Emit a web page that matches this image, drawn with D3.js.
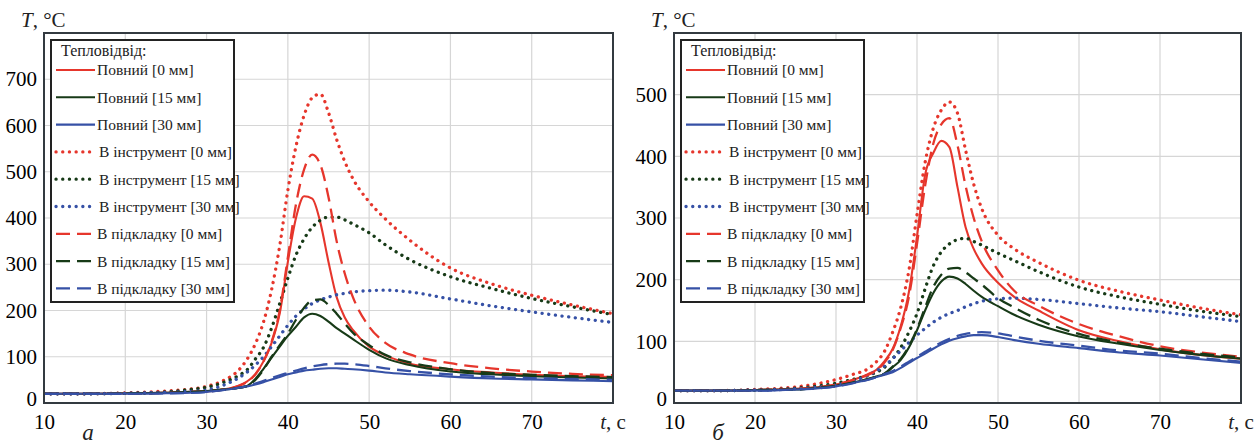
<!DOCTYPE html>
<html><head><meta charset="utf-8">
<script src="https://cdn.jsdelivr.net/npm/d3@7"></script>
<style>body{margin:0;background:#fff}svg{display:block}</style>
</head><body>
<svg id="c" width="1260" height="448"></svg>
<script>
// ---- data ----
const timePoints = [10,15,20,25,28,30,32,34,35,36,37,38,39,40,41,42,43,44,45,46,47,48,50,52,55,60,65,70,75,80];
const xTicks = [10,20,30,40,50,60,70];
const yTicksA = [0,100,200,300,400,500,600,700];
const yTicksB = [0,100,200,300,400,500];
const legendTitle = "Тепловідвід:";
const seriesNames = ["Повний [0 мм]","Повний [15 мм]","Повний [30 мм]",
  "В інструмент [0 мм]","В інструмент [15 мм]","В інструмент [30 мм]",
  "В підкладку [0 мм]","В підкладку [15 мм]","В підкладку [30 мм]"];

// panel а
const a_full0  = [20,20,21,22,24,25,29,38,47,62,90,130,194,305,400,447,442,390,305,229,185,158,122,103,85,73,66,61,58,56];
const a_full15 = [20,20,21,22,24,26,29,33,37,52,74,98,122,145,165,185,193,188,176,162,150,138,115,97,82,68,62,58,55,53];
const a_full30 = [20,20,20,21,22,24,28,33,36,40,45,51,56,62,66,70,72,74,75,75,74,73,70,66,62,57,53,51,49,47];
const a_tool0  = [20,20,22,26,30,36,48,72,95,128,175,245,340,460,555,622,660,668,628,570,522,485,435,398,352,292,258,233,212,193];
const a_tool15 = [20,20,21,24,29,34,44,60,72,95,120,162,215,270,320,355,380,395,402,402,396,387,368,342,310,273,248,226,208,191];
const a_tool30 = [20,20,21,23,25,28,38,55,67,82,100,122,145,168,188,203,215,223,229,234,237,240,243,244,240,225,210,197,185,174];
const a_sub0   = [20,20,21,22,24,25,29,37,46,62,90,132,200,315,430,505,537,515,445,350,280,229,165,130,105,86,75,68,63,60];
const a_sub15  = [20,20,21,22,24,26,29,33,37,50,72,100,125,150,180,206,222,224,212,193,172,152,125,104,88,73,65,61,58,56];
const a_sub30  = [20,20,20,21,22,24,28,33,37,42,48,54,60,65,70,75,79,82,84,85,85,84,80,75,69,62,57,54,52,50];

// panel б
const b_full0  = [20,20,21,23,26,30,37,47,54,68,88,125,180,270,370,405,425,415,350,285,250,226,195,172,150,118,100,87,78,72];
const b_full15 = [20,20,21,22,25,28,33,39,43,47,58,70,90,118,150,178,197,205,202,193,182,172,157,143,127,108,96,86,78,72];
const b_full30 = [20,20,20,22,24,27,32,38,42,46,50,57,65,73,80,88,95,101,105,108,110,110,107,102,96,89,82,77,71,65];
const b_tool0  = [20,20,22,26,32,38,46,56,67,84,115,155,215,305,390,445,475,488,470,410,355,315,272,250,228,199,181,167,154,143];
const b_tool15 = [20,20,21,24,28,32,38,45,50,58,72,90,115,145,185,222,245,258,265,267,262,256,243,231,213,188,172,160,149,140];
const b_tool30 = [20,20,21,23,26,29,35,45,52,60,72,85,98,110,121,131,139,145,150,156,161,165,169,170,168,161,154,148,140,132];
const b_sub0   = [20,20,21,23,26,30,37,46,53,66,86,122,172,258,352,420,452,462,418,352,300,262,215,182,158,128,108,92,82,75];
const b_sub15  = [20,20,21,22,25,28,33,39,43,48,59,72,92,120,155,188,208,218,219,212,202,192,170,155,135,112,98,88,80,74];
const b_sub30  = [20,20,20,22,24,27,32,38,42,47,52,59,67,75,83,91,98,104,109,112,114,115,113,108,101,93,85,80,73,67];

// ---- styles ----
const RED = "#e6362c", GREEN = "#173a17", BLUE = "#3651a6";
const styleList = [
  {c:RED,k:"solid"},{c:GREEN,k:"solid"},{c:BLUE,k:"solid"},
  {c:RED,k:"dot"},{c:GREEN,k:"dot"},{c:BLUE,k:"dot"},
  {c:RED,k:"dash"},{c:GREEN,k:"dash"},{c:BLUE,k:"dash"}];
function applyStyle(sel, s){
  sel.attr("fill","none").attr("stroke",s.c);
  if(s.k==="solid") sel.attr("stroke-width",2.1);
  if(s.k==="dot") sel.attr("stroke-width",3.3).attr("stroke-linecap","round").attr("stroke-dasharray","0.1,6.6");
  if(s.k==="dash") sel.attr("stroke-width",2.3).attr("stroke-dasharray","14,7");
}

const svg = d3.select("#c");
const FONT = '"Liberation Serif", "Times New Roman", Times, Tinos, "DejaVu Serif", "Noto Serif", serif';
const TOP = 33, BOTTOM = 403;
function txt(sel, size){ return sel.attr("font-family",FONT).attr("font-size",size).attr("fill","#222"); }

function panel(cfg){
  const x = d3.scaleLinear().domain([10,80]).range([cfg.left,cfg.right]);
  const y = d3.scaleLinear().domain([0,cfg.ymax]).range([BOTTOM,TOP]);
  const g = svg.append("g");
  const clipId = "clip"+cfg.id;
  svg.append("clipPath").attr("id",clipId).append("rect")
    .attr("x",cfg.left).attr("y",TOP).attr("width",cfg.right-cfg.left).attr("height",BOTTOM-TOP);
  // grid
  g.append("g").selectAll("line").data(xTicks.filter(v=>v>10)).join("line")
    .attr("x1",d=>x(d)).attr("x2",d=>x(d)).attr("y1",TOP).attr("y2",BOTTOM)
    .attr("stroke","#d6d6d6").attr("stroke-width",1.2);
  g.append("g").selectAll("line").data(cfg.yTicks.filter(v=>v>0)).join("line")
    .attr("x1",cfg.left).attr("x2",cfg.right).attr("y1",d=>y(d)).attr("y2",d=>y(d))
    .attr("stroke","#d6d6d6").attr("stroke-width",1.2);
  // curves
  const line = d3.line().x(d=>x(d[0])).y(d=>y(d[1])).curve(d3.curveMonotoneX);
  const cg = g.append("g").attr("clip-path",`url(#${clipId})`);
  cfg.series.forEach((vals,i)=>{
    const pts = timePoints.map((t,j)=>[t,vals[j]]);
    cg.append("path").attr("d",line(pts)).call(applyStyle, styleList[i]);
  });
  // frame
  g.append("rect").attr("x",cfg.left).attr("y",TOP).attr("width",cfg.right-cfg.left).attr("height",BOTTOM-TOP)
    .attr("fill","none").attr("stroke","#333a40").attr("stroke-width",2);
  // axes
  const ya = g.append("g").attr("transform",`translate(${cfg.left},0)`)
    .call(d3.axisLeft(y).tickValues(cfg.yTicks).tickSize(0).tickPadding(7));
  ya.select(".domain").remove();
  ya.call(txt,21);
  ya.selectAll("text").attr("dy",d=>d===0?"0.1em":"0.32em");
  const xa = g.append("g").attr("transform",`translate(0,${BOTTOM})`)
    .call(d3.axisBottom(x).tickValues(xTicks).tickSize(0).tickPadding(11));
  xa.select(".domain").remove();
  xa.call(txt,21);
  // axis titles
  const tx = g.append("text").attr("x",x(80)).attr("y",429).attr("text-anchor","middle").call(txt,21);
  tx.append("tspan").attr("font-style","italic").text("t");
  tx.append("tspan").text(", c");
  const ty = g.append("text").attr("x",cfg.left-23).attr("y",27).call(txt,21);
  ty.append("tspan").attr("font-style","italic").text("T");
  ty.append("tspan").text(", °C");
  g.append("text").attr("x",cfg.left+44).attr("y",440).attr("text-anchor","middle")
    .call(txt,23).attr("font-style","italic").text(cfg.label);
  // legend
  const L = g.append("g");
  L.append("rect").attr("x",cfg.left+7).attr("y",40).attr("width",183).attr("height",262)
    .attr("fill","#fff").attr("stroke","#222").attr("stroke-width",2);
  L.append("text").attr("x",cfg.left+17).attr("y",56).call(txt,16).text(legendTitle);
  seriesNames.forEach((name,i)=>{
    const yy = 70 + i*27.3;
    const s = styleList[i];
    const x1 = cfg.left+12, x2 = s.k==="dot" ? cfg.left+48 : cfg.left+51;
    L.append("line").attr("x1",x1).attr("x2",x2).attr("y1",yy).attr("y2",yy).call(applyStyle,s);
    L.append("text").attr("x",cfg.left+(s.k==="dot"?55:53)).attr("y",yy).attr("dy","0.35em")
      .call(txt,15.5).text(name);
  });
}

panel({id:"a",left:44,right:613,ymax:800,yTicks:yTicksA,label:"а",
  series:[a_full0,a_full15,a_full30,a_tool0,a_tool15,a_tool30,a_sub0,a_sub15,a_sub30]});
panel({id:"b",left:674,right:1241,ymax:600,yTicks:yTicksB,label:"б",
  series:[b_full0,b_full15,b_full30,b_tool0,b_tool15,b_tool30,b_sub0,b_sub15,b_sub30]});
</script>
</body></html>
